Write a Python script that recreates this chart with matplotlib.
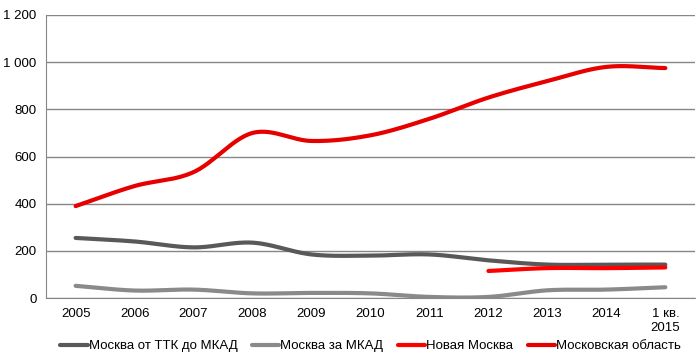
import numpy as np
import matplotlib.pyplot as plt

plt.rcParams['font.family'] = ['Liberation Sans', 'DejaVu Sans']

# Data
years = ["2005", "2006", "2007", "2008", "2009", "2010", "2011", "2012", "2013", "2014", "1 кв.\n2015"]
ttk_mkad = [255, 240, 215, 235, 185, 180, 185, 160, 142, 142, 142]
za_mkad = [52, 32, 36, 20, 22, 20, 5, 5, 33, 36, 46]
new_moscow = [115, 127, 127, 130]          # 2012 .. 2015
mosobl = [390, 475, 534, 700, 666, 690, 760, 850, 920, 980, 975]


def smooth(x, y, n=30):
    # Catmull-Rom curve through the points (like Excel's smoothed line)
    x = np.asarray(x, float)
    y = np.asarray(y, float)
    px = np.concatenate([[2 * x[0] - x[1]], x, [2 * x[-1] - x[-2]]])
    py = np.concatenate([[2 * y[0] - y[1]], y, [2 * y[-1] - y[-2]]])
    xs, ys = [], []
    t = np.linspace(0, 1, n)
    for i in range(1, len(px) - 2):
        for p, out in ((px, xs), (py, ys)):
            p0, p1, p2, p3 = p[i - 1], p[i], p[i + 1], p[i + 2]
            out.extend(0.5 * (2 * p1 + (-p0 + p2) * t
                              + (2 * p0 - 5 * p1 + 4 * p2 - p3) * t ** 2
                              + (-p0 + 3 * p1 - 3 * p2 + p3) * t ** 3))
    return xs, ys


fig = plt.figure(figsize=(6.99, 3.57), dpi=100)
ax = fig.add_axes([0.066, 0.165, 0.928, 0.793])

x = np.arange(len(years))
series = [
    (x, ttk_mkad, "#595959", "Москва от ТТК до МКАД"),
    (x, za_mkad, "#8a8a8a", "Москва за МКАД"),
    (x[7:], new_moscow, "#ff0000", "Новая Москва"),
    (x, mosobl, "#e60000", "Московская область"),
]
for xx, yy, col, lab in series:
    sx, sy = smooth(xx, yy)
    ax.plot(sx, sy, color=col, lw=3, label=lab, solid_capstyle="round")

ax.set_xlim(-0.5, len(years) - 0.5)
ax.set_ylim(0, 1200)
ax.set_yticks(range(0, 1201, 200))
ax.set_yticklabels(["0", "200", "400", "600", "800", "1 000", "1 200"])
ax.set_xticks(x)
ax.set_xticklabels(years)
ax.grid(axis="y", color="#868686", lw=1)
ax.set_axisbelow(True)
for s in ["top", "right"]:
    ax.spines[s].set_visible(False)
for s in ["left", "bottom"]:
    ax.spines[s].set_color("#868686")
ax.tick_params(length=0, labelsize=9.5, colors="black", pad=7)
ax.tick_params(axis="y", pad=7)

ax.legend(loc="center", bbox_to_anchor=(0.5, -0.17), ncol=4, frameon=False,
          fontsize=9.5, handlelength=2.1, handletextpad=0.05, columnspacing=1.1)

fig.savefig("out.png", dpi=100)
